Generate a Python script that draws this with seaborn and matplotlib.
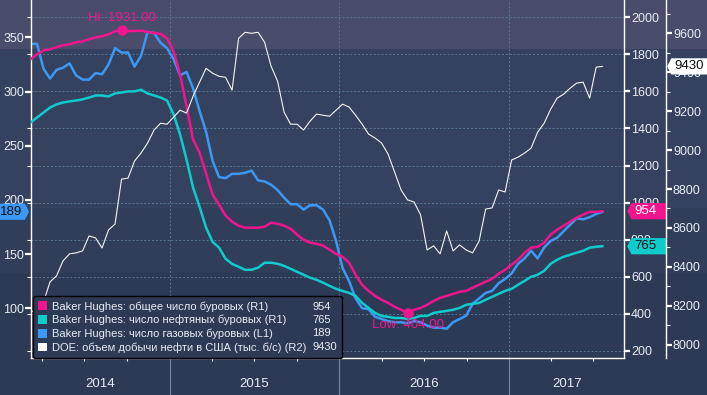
import pandas as pd
import seaborn as sns
import matplotlib.pyplot as plt
import matplotlib.dates as mdates
import matplotlib.transforms as mtransforms
from matplotlib.patches import Patch, Rectangle
from matplotlib.path import Path
from matplotlib.ticker import NullFormatter

# biweekly readings, Mar 2014 - Jul 2017
dates = pd.date_range("2014-03-07", "2017-07-21", freq="14D")

total_rigs = [1773, 1800, 1822, 1827, 1838, 1849, 1854, 1865, 1870, 1881,
              1892, 1897, 1908, 1924, 1931, 1925, 1926, 1928, 1920, 1916,
              1910, 1886, 1816, 1692, 1519, 1340, 1270, 1157, 1043, 989,
              930, 897, 876, 865, 865, 865, 870, 892, 886, 876,
              859, 827, 800, 784, 778, 768, 746, 724, 708, 676,
              611, 557, 524, 497, 476, 459, 438, 422, 404, 422,
              432, 449, 470, 486, 497, 508, 519, 524, 541, 557,
              573, 589, 616, 638, 665, 692, 730, 757, 762, 784,
              827, 854, 876, 897, 919, 935, 951, 950, 954]

oil_rigs = [1432, 1459, 1486, 1513, 1530, 1540, 1546, 1551, 1557, 1567,
            1578, 1578, 1573, 1589, 1594, 1600, 1600, 1609, 1589, 1578,
            1567, 1551, 1476, 1368, 1232, 1081, 978, 865, 789, 757,
            697, 670, 654, 638, 638, 649, 676, 676, 670, 659,
            643, 627, 611, 595, 584, 568, 551, 535, 524, 513,
            497, 459, 432, 405, 389, 384, 378, 378, 373, 378,
            389, 389, 405, 411, 416, 422, 432, 449, 454, 459,
            476, 492, 508, 524, 535, 557, 578, 600, 611, 632,
            670, 692, 708, 719, 730, 740, 757, 762, 765]

gas_rigs = [344, 344, 321, 312, 320, 322, 326, 315, 311, 311,
            317, 316, 325, 340, 336, 336, 323, 333, 355, 354,
            345, 340, 330, 315, 318, 303, 282, 263, 236, 221,
            220, 224, 224, 225, 227, 218, 217, 214, 209, 202,
            196, 196, 191, 195, 195, 191, 181, 162, 137, 125,
            109, 100, 99, 92, 90, 88, 87, 87, 86, 88,
            87, 84, 82, 82, 81, 87, 90, 93, 104, 109,
            114, 116, 123, 127, 132, 141, 146, 153, 146, 156,
            162, 165, 171, 177, 183, 182, 184, 187, 189]

us_output = [8164, 8190, 8220, 8323, 8354, 8431, 8467, 8472, 8482, 8559,
             8549, 8497, 8590, 8620, 8851, 8856, 8944, 8985, 9036, 9103,
             9138, 9133, 9169, 9205, 9190, 9277, 9349, 9420, 9395, 9379,
             9374, 9308, 9574, 9605, 9600, 9605, 9554, 9431, 9354, 9195,
             9133, 9133, 9103, 9149, 9185, 9179, 9174, 9205, 9236, 9221,
             9179, 9133, 9082, 9062, 9036, 8979, 8887, 8795, 8744, 8733,
             8667, 8487, 8508, 8467, 8585, 8482, 8513, 8487, 8472, 8533,
             8697, 8703, 8795, 8785, 8949, 8964, 8985, 9010, 9092, 9138,
             9210, 9267, 9287, 9318, 9344, 9349, 9267, 9426, 9430]

series_labels = ["Baker Hughes: общее число буровых (R1)",
                 "Baker Hughes: число нефтяных буровых (R1)",
                 "Baker Hughes: число газовых буровых (L1)",
                 "DOE: объем добычи нефти в США (тыс. б/с) (R2)"]
last_values = ["954", "765", "189", "9430"]
years = ["2014", "2015", "2016", "2017"]

PINK, CYAN, BLUE, WHITE = "#f2148c", "#0fcccc", "#3b98f5", "#f4f4f4"
BASE = "#2d3a56"
TXT = "#e8ecf4"
GRID = "#587890"

sns.set_theme(style="dark", rc={"figure.facecolor": BASE, "axes.facecolor": "none"})
plt.rcParams["font.family"] = ["Liberation Sans", "DejaVu Sans"]

fig = plt.figure(figsize=(7.07, 3.95), dpi=100)
ax = fig.add_axes([31 / 707, 37 / 395, 593 / 707, 358 / 395])
ax_r1 = ax.twinx()
ax_r2 = ax.twinx()
R2_POS = (666 - 31) / 593

# shaded bands across the whole figure
for y0, y1, c in [(0.876, 1.0, "#4a4c6b"), (0.473, 0.876, "#35425f"), (0.309, 0.473, "#313e5a")]:
    fig.patches.append(Rectangle((0, y0), 1, y1 - y0, transform=fig.transFigure,
                                 facecolor=c, lw=0, zorder=-1))

sns.lineplot(x=dates, y=gas_rigs, ax=ax, color=BLUE, lw=1.8)
sns.lineplot(x=dates, y=oil_rigs, ax=ax_r1, color=CYAN, lw=1.8)
sns.lineplot(x=dates, y=total_rigs, ax=ax_r1, color=PINK, lw=1.8)
sns.lineplot(x=dates, y=us_output, ax=ax_r2, color=WHITE, lw=0.8)

ax.set_xlim(pd.Timestamp("2014-03-08"), pd.Timestamp("2017-09-05"))
ax.set_ylim(54, 384.5)
ax_r1.set_ylim(162, 2093)
ax_r2.set_ylim(7932, 9771)

ax.set_yticks(range(100, 351, 50))
ax_r1.set_yticks(range(200, 2001, 200))
ax_r2.set_yticks(range(8000, 9601, 200))
ax_r2.set_yticks(range(8000, 9701, 100), minor=True)

# dashed grid follows the R1 scale, drawn underneath on the base axes
r_lo, r_hi = ax_r1.get_ylim()
l_lo, l_hi = ax.get_ylim()
grid_l = [l_lo + (v - r_lo) / (r_hi - r_lo) * (l_hi - l_lo) for v in ax_r1.get_yticks()]
ax.set_yticks(grid_l, minor=True)
ax.grid(False)
ax.grid(True, which="minor", axis="y", color=GRID, ls=(0, (2, 2)), lw=0.7)
ax.grid(True, which="major", axis="x", color=GRID, ls=(0, (2, 2)), lw=0.7)

ax.xaxis.set_major_locator(mdates.YearLocator())
ax.xaxis.set_minor_locator(mdates.MonthLocator(bymonth=[1, 4, 7, 10]))
ax.xaxis.set_major_formatter(NullFormatter())
ax.tick_params(axis="x", which="major", length=27, width=0.8, color="#7c879c", direction="out", bottom=True)
ax.tick_params(axis="x", which="minor", length=2.5, width=0.8, color="white", direction="out", bottom=True)

for a in (ax, ax_r1, ax_r2):
    a.set_xlabel("")
    a.set_ylabel("")
    for s in a.spines.values():
        s.set_visible(False)
    a.tick_params(axis="y", which="major", direction="out", length=4, width=1.6,
                  color="white", labelcolor=TXT, labelsize=9, pad=1)
ax.tick_params(axis="y", which="minor", direction="out", length=3, width=0.8, color="white", left=True)
ax_r2.tick_params(axis="y", which="minor", direction="out", length=3, width=0.8, color="white", right=True)
ax.tick_params(axis="y", left=True)
ax_r1.tick_params(axis="y", right=True)
ax_r2.tick_params(axis="y", right=True)

ax.spines["left"].set_visible(True)
ax.spines["bottom"].set_visible(True)
ax_r1.spines["right"].set_visible(True)
ax_r2.spines["right"].set_visible(True)
ax_r2.spines["right"].set_position(("axes", R2_POS))
for s in (ax.spines["left"], ax.spines["bottom"], ax_r1.spines["right"], ax_r2.spines["right"]):
    s.set_color("white")
    s.set_linewidth(1.0)

# year labels centred in each visible year
x0, x1 = ax.get_xlim()
edges = [x0] + [mdates.date2num(pd.Timestamp(f"{y}-01-01")) for y in years[1:]] + [x1]
for i, y in enumerate(years):
    ax.text((edges[i] + edges[i + 1]) / 2, -0.072, y, transform=ax.get_xaxis_transform(),
            ha="center", va="center", color=TXT, fontsize=9.5)

# Hi / Low markers
s_total = pd.Series(total_rigs, index=dates)
for d, v, name, off, va in [(s_total.idxmax(), s_total.max(), "Hi", 4, "bottom"),
                            (s_total.idxmin(), s_total.min(), "Low", -4, "top")]:
    ax_r1.plot([d], [v], "o", color=PINK, ms=6.5, zorder=5)
    ax_r1.annotate(f"{name}: {v:.2f}", (d, v), xytext=(0, off), textcoords="offset points",
                   ha="center", va=va, color=PINK, fontsize=9.5)


def tag_shape(direction, pl, pr, py, tip):
    def shape(x0, y0, width, height, mutation_scale):
        ya, yb = y0 - py * mutation_scale, y0 + height + py * mutation_scale
        ym = (ya + yb) / 2
        t = tip * (yb - ya)
        xa, xb = x0 - pl * mutation_scale, x0 + width + pr * mutation_scale
        if direction == "left":
            verts = [(xa - t, ym), (xa, ya), (xb, ya), (xb, yb), (xa, yb), (xa - t, ym)]
        else:
            verts = [(xb + t, ym), (xb, yb), (xa, yb), (xa, ya), (xb, ya), (xb + t, ym)]
        return Path(verts, closed=True)
    return shape


def value_tag(axis, xfrac, value, text, fc, tc, direction, dx, pl, pr):
    trans = mtransforms.blended_transform_factory(ax.transAxes, axis.transData)
    axis.annotate(text, (xfrac, value), xycoords=trans, xytext=(dx, 0), textcoords="offset pixels",
                  ha="left" if direction == "left" else "right", va="center", color=tc, fontsize=9.5,
                  annotation_clip=False, zorder=10,
                  bbox=dict(boxstyle=tag_shape(direction, pl, pr, 0.16, 0.26), fc=fc, ec="none"))


value_tag(ax_r1, 1.0, total_rigs[-1], last_values[0], PINK, "white", "left", 10, 0.2, 0.8)
value_tag(ax_r1, 1.0, oil_rigs[-1], last_values[1], CYAN, "#101010", "left", 10, 0.2, 0.8)
value_tag(ax, 0.0, gas_rigs[-1], last_values[2], BLUE, "#101010", "right", -9, 0.8, 0.22)
value_tag(ax_r2, R2_POS, us_output[-1], last_values[3], "white", "#101010", "left", 8, 0.2, 1.0)

handles = [Patch(facecolor=c, edgecolor="none") for c in (PINK, CYAN, BLUE, "white")]
handles += [Patch(facecolor="none", edgecolor="none") for _ in range(4)]
leg = ax_r2.legend(handles, series_labels + last_values, ncol=2, loc="lower left",
                   bbox_to_anchor=(0.003, 0.0), borderaxespad=0, fontsize=8,
                   frameon=True, fancybox=True, facecolor=BASE, edgecolor="black", framealpha=1,
                   labelcolor=TXT, handlelength=0.8, handleheight=0.8, handletextpad=0.5,
                   columnspacing=-0.8, borderpad=0.45, labelspacing=0.3)
leg.get_frame().set_linewidth(1.0)

fig.savefig("out.png", dpi=100, facecolor=fig.get_facecolor())
